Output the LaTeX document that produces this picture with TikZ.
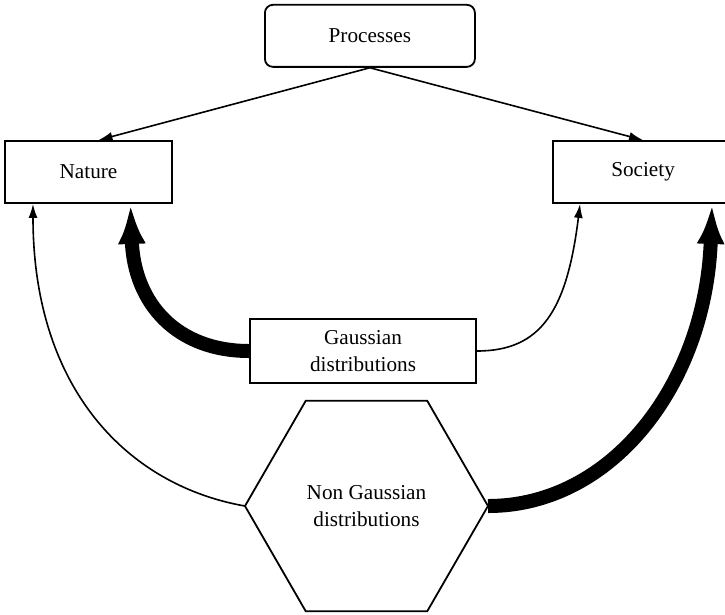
\documentclass[tikz,border=0pt]{standalone}
\usepackage{fontspec}
\setmainfont{Liberation Serif}
\usepackage{tikz}
\usetikzlibrary{arrows.meta, shapes.geometric}

\begin{document}
\begin{tikzpicture}[ % Starts the TikZ drawing environment
        every node/.style={font=\fontsize{10.6}{13.5}\selectfont, align=center}, % Default style for all nodes
        mybox/.style={rectangle, draw, line width=0.9pt, inner sep=0pt}, % Rectangular nodes with border
        myhex/.style={regular polygon, regular polygon sides=6, draw, line width=0.9pt,
            minimum size=4.27cm, inner sep=0pt, outer sep=0pt}, % Hexagon node
        thinarrow/.style={-{Latex[length=7pt,width=4.5pt]}, line width=0.8pt}, % Thin arrows
        thickarrow/.style={-{Latex[length=20pt,width=14pt]}, line width=7pt} % Thick arrows
    ]
    \useasboundingbox (0,0) rectangle (12.74,10.79);
    % --- TikZ Nodes (positioning and content) ---
    \node (P) [mybox, rounded corners=4pt, minimum width=3.69cm, minimum height=1.09cm] at (6.50,10.16) {Processes};
    \node (N) [mybox, minimum width=2.93cm, minimum height=1.09cm] at (1.555,7.767) {Nature};
    \node (S) [mybox, minimum width=3.16cm, minimum height=1.09cm] at (11.30,7.767) {Society};
    \node (G) [mybox, minimum width=3.97cm, minimum height=1.12cm] at (6.379,4.622) {Gaussian\\distributions};
    \node (H) [myhex] at (6.44,1.898) {Non Gaussian\\distributions};
    % --- TikZ Connections (drawing arrows between nodes) ---
    \draw[thinarrow] (P.south) -- ([xshift=5pt]N.north);
    \draw[thinarrow] (P.south) -- (S.north);
    \draw[thickarrow] (G.west) to[out=180, in=-88, out distance=36pt, in distance=50pt] ([xshift=21pt]N.south);
    \draw[thinarrow] (G.east) to[out=0, in=-97, out distance=32pt, in distance=54pt] ([xshift=-31.5pt]S.south);
    \draw[thinarrow] (H.west) to[out=170, in=-90, out distance=60pt, in distance=92pt] ([xshift=-27.75pt]N.south);
    \draw[thickarrow] (H.east) to[out=0, in=-92, out distance=62pt, in distance=90pt] ([xshift=34.5pt]S.south);
\end{tikzpicture}
\end{document}
